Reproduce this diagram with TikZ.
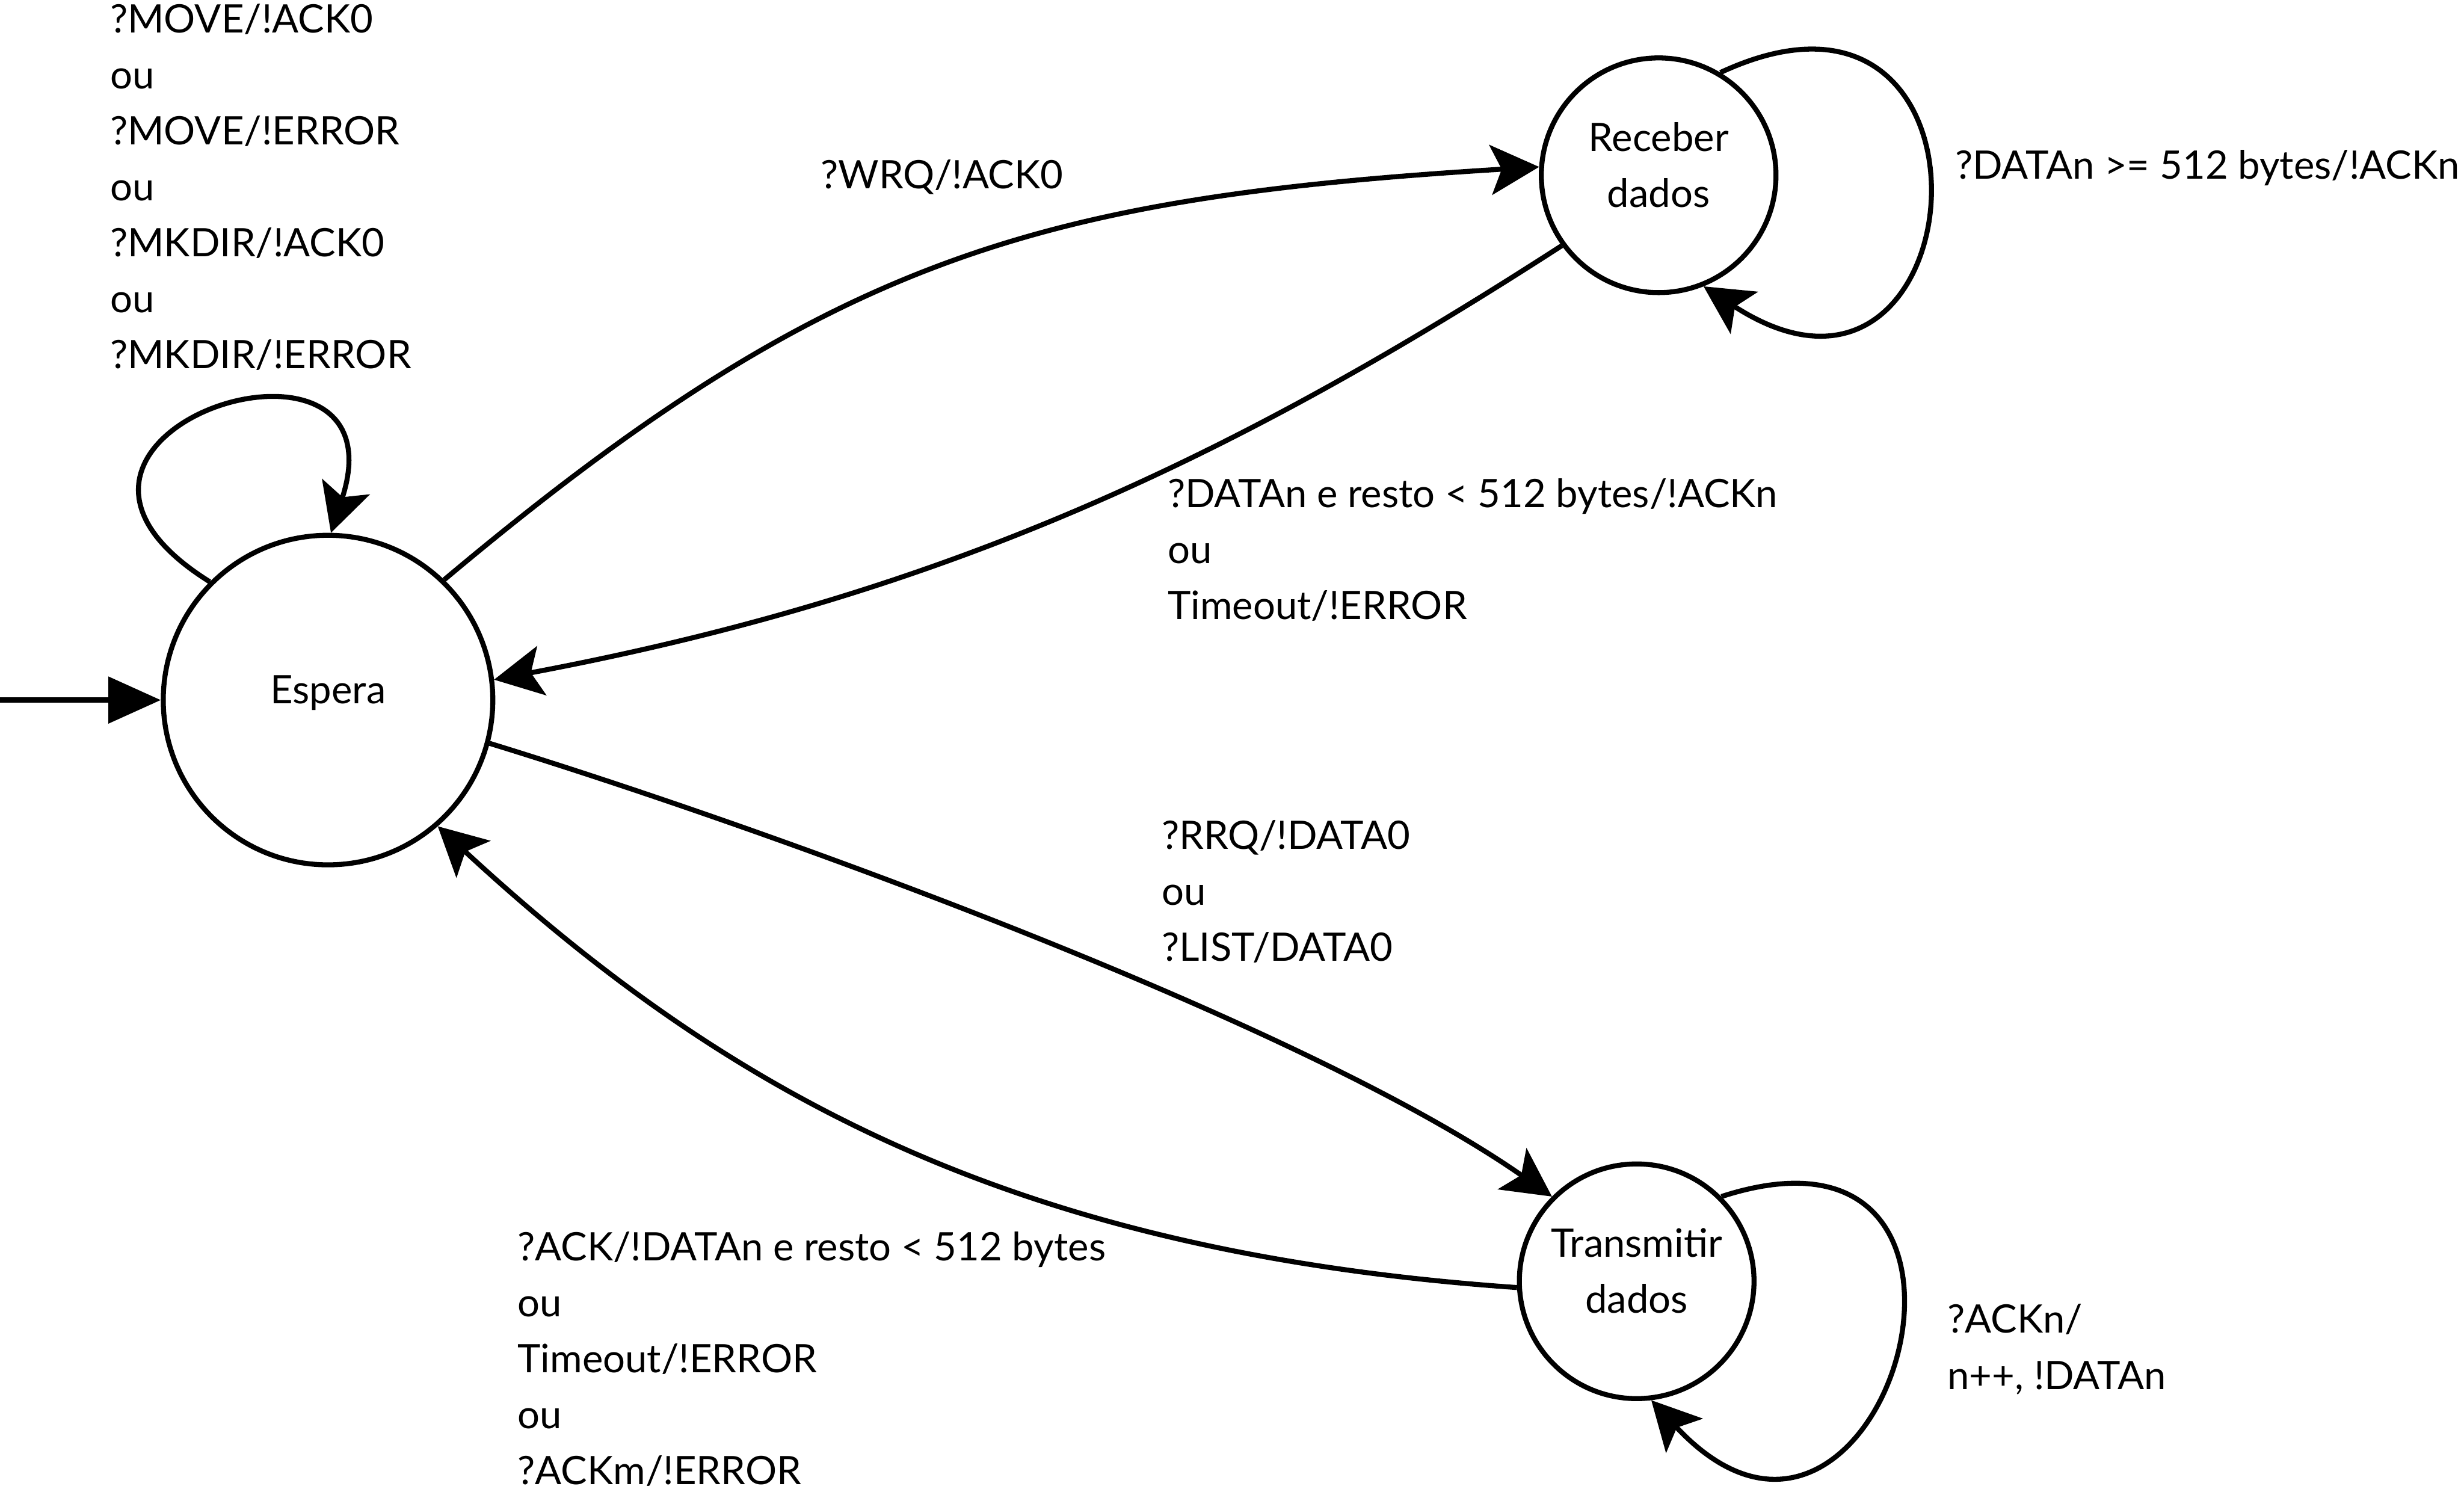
\documentclass[tikz,border=0pt]{standalone}
\usepackage{fontspec}
\setmainfont{Lato}
\usetikzlibrary{arrows.meta}

\tikzset{estado/.style = {circle, draw, line width=0.1cm, minimum size=#1,
                          inner sep=0pt, align=center, text depth=0.42cm},
         estado/.default=4.7cm,
         trans/.style = {line width=0.1cm,
                         -{Stealth[length=0.97cm, width=1cm, inset=0.22cm]}},
         rotulo/.style = {anchor=base west, align=left, inner sep=0pt}
        }

\begin{document}
\begin{tikzpicture}[x=1cm, y=1cm, font=\fontsize{22.35pt}{31.9pt}\selectfont]
  \useasboundingbox (0,0) rectangle (49.35,-30);
  % estados
  \node[estado=6.6cm] (esp) at (6.57,-14.02) {Espera};
  \node[estado] (rec) at (33.22,-3.51) {Receber\\dados};
  \node[estado] (tr)  at (32.78,-25.66) {Transmitir\\dados};
  \coordinate (ini) at (0,-14.02);

  % estado inicial
  \draw[line width=0.1cm, -{Triangle[length=1.05cm, width=0.92cm]}] (ini) -- (esp);

  % transicoes
  \draw[trans] (esp.135) .. controls +(148:5.6) and +(72:5.0) .. (esp.89);
  \draw[trans] (esp.46) .. controls (16.60,-5.14) and (20.78,-3.96) .. (rec.176);
  \draw[trans] (rec.216) .. controls (24.53,-9.28) and (18.78,-11.94) .. (esp.7);
  \draw[trans] (rec.59) .. controls +(25:6.6) and +(-33:6.6) .. (rec.-68);
  \draw[trans] (esp.-15) .. controls (15.58,-16.66) and (26.15,-20.52) .. (tr.135);
  \draw[trans] (tr.183) .. controls (20.41,-25.09) and (14.66,-21.99) .. (esp.-49);
  \draw[trans] (tr.45) .. controls +(18:6.8) and +(-47:6.8) .. (tr.-83);

  % rotulos (base = ultima linha)
  \node[rotulo] (lbesp) at (2.20,-7.38) {?MOVE/!ACK0\\ou\\?MOVE/!ERROR\\ou\\?MKDIR/!ACK0\\ou\\?MKDIR/!ERROR};
  \node[rotulo] (lbwrq) at (16.43,-3.78) {?WRQ/!ACK0};
  \node[rotulo] (lbrec) at (39.15,-3.58) {?DATAn >= 512 bytes/!ACKn};
  \node[rotulo] (lbfim) at (23.38,-12.40) {?DATAn e resto < 512 bytes/!ACKn\\ou\\Timeout/!ERROR};
  \node[rotulo] (lbrrq) at (23.26,-19.25) {?RRQ/!DATA0\\ou\\?LIST/DATA0};
  \node[rotulo] (lback) at (10.36,-29.73) {?ACK/!DATAn e resto < 512 bytes\\ou\\Timeout/!ERROR\\ou\\?ACKm/!ERROR};
  \node[rotulo] (lbtr) at (39.00,-27.82) {?ACKn/\\n++, !DATAn};
\end{tikzpicture}
\end{document}
